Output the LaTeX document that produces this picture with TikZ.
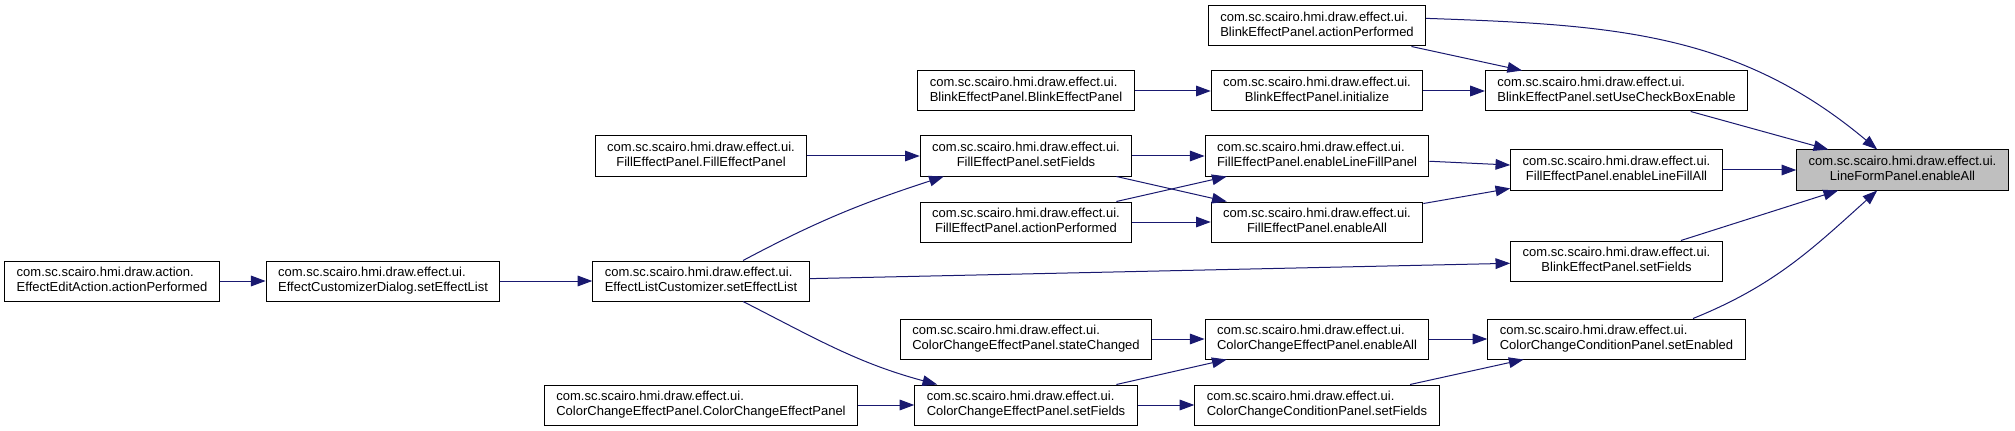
\documentclass[tikz,border=0pt]{standalone}
\usepackage{fontspec}
\setmainfont{Liberation Sans}
\usepackage{tikz}
\usetikzlibrary{arrows.meta}
\definecolor{cedge}{RGB}{25,25,112}
\definecolor{cgray}{RGB}{191,191,191}
\newcommand{\twoline}[2]{\begin{tabular}{@{}l@{}}#1\\\multicolumn{1}{@{}c@{}}{#2}\end{tabular}}

\begin{document}
\begin{tikzpicture}[
    x=0.75pt, y=-0.75pt,
    every node/.style={font=\fontsize{9.75}{11.25}\selectfont},
    fn/.style={draw=black, line width=0.75pt, fill=white, inner xsep=9pt, inner ysep=0pt, minimum height=30pt},
    call/.style={-{Triangle[length=11pt,width=8pt]}, cedge, line width=0.75pt},
]
    \fill[white] (0,0) rectangle (2015,431);

    % Column 1 and 2
    \node[fn] (eea) at (112,281) {\twoline{com.sc.scairo.hmi.draw.action.}{EffectEditAction.actionPerformed}};
    \node[fn] (ecd) at (383,281) {\twoline{com.sc.scairo.hmi.draw.effect.ui.}{EffectCustomizerDialog.setEffectList}};

    % Column 3
    \node[fn] (fepc) at (701,156) {\twoline{com.sc.scairo.hmi.draw.effect.ui.}{FillEffectPanel.FillEffectPanel}};
    \node[fn] (elc) at (701,281) {\twoline{com.sc.scairo.hmi.draw.effect.ui.}{EffectListCustomizer.setEffectList}};
    \node[fn] (ccepc) at (701,405) {\twoline{com.sc.scairo.hmi.draw.effect.ui.}{ColorChangeEffectPanel.ColorChangeEffectPanel}};

    % Column 4
    \node[fn] (bepc) at (1026,91) {\twoline{com.sc.scairo.hmi.draw.effect.ui.}{BlinkEffectPanel.BlinkEffectPanel}};
    \node[fn] (fesf) at (1026,156) {\twoline{com.sc.scairo.hmi.draw.effect.ui.}{FillEffectPanel.setFields}};
    \node[fn] (feap) at (1026,222) {\twoline{com.sc.scairo.hmi.draw.effect.ui.}{FillEffectPanel.actionPerformed}};
    \node[fn] (cesc) at (1026,339) {\twoline{com.sc.scairo.hmi.draw.effect.ui.}{ColorChangeEffectPanel.stateChanged}};
    \node[fn] (cesf) at (1026,405) {\twoline{com.sc.scairo.hmi.draw.effect.ui.}{ColorChangeEffectPanel.setFields}};

    % Column 5
    \node[fn] (beap) at (1317,26) {\twoline{com.sc.scairo.hmi.draw.effect.ui.}{BlinkEffectPanel.actionPerformed}};
    \node[fn] (bei) at (1317,91) {\twoline{com.sc.scairo.hmi.draw.effect.ui.}{BlinkEffectPanel.initialize}};
    \node[fn] (felp) at (1317,156) {\twoline{com.sc.scairo.hmi.draw.effect.ui.}{FillEffectPanel.enableLineFillPanel}};
    \node[fn] (fea) at (1317,222) {\twoline{com.sc.scairo.hmi.draw.effect.ui.}{FillEffectPanel.enableAll}};
    \node[fn] (cea) at (1317,339) {\twoline{com.sc.scairo.hmi.draw.effect.ui.}{ColorChangeEffectPanel.enableAll}};
    \node[fn] (ccsf) at (1317,405) {\twoline{com.sc.scairo.hmi.draw.effect.ui.}{ColorChangeConditionPanel.setFields}};

    % Column 6
    \node[fn] (bucb) at (1616.5,91) {\twoline{com.sc.scairo.hmi.draw.effect.ui.}{BlinkEffectPanel.setUseCheckBoxEnable}};
    \node[fn] (fela) at (1616.5,170) {\twoline{com.sc.scairo.hmi.draw.effect.ui.}{FillEffectPanel.enableLineFillAll}};
    \node[fn] (besf) at (1616.5,261) {\twoline{com.sc.scairo.hmi.draw.effect.ui.}{BlinkEffectPanel.setFields}};
    \node[fn] (ccse) at (1616.5,339) {\twoline{com.sc.scairo.hmi.draw.effect.ui.}{ColorChangeConditionPanel.setEnabled}};

    % Target
    \node[fn, fill=cgray] (lfp) at (1902.5,170) {\twoline{com.sc.scairo.hmi.draw.effect.ui.}{LineFormPanel.enableAll}};

    % Calls
    \draw[call] (eea) -- (ecd);
    \draw[call] (ecd) -- (elc);
    \draw[call] (elc.26) to[out=28, in=198] (fesf.194);
    \draw[call] (elc) -- (besf);
    \draw[call] (elc.-26) to[out=-27, in=165] (cesf.167);
    \draw[call] (fepc) -- (fesf);
    \draw[call] (ccepc) -- (cesf);
    \draw[call] (bepc) -- (bei);
    \draw[call] (fesf) -- (felp);
    \draw[call] (fesf) -- (fea);
    \draw[call] (feap) -- (felp);
    \draw[call] (feap) -- (fea);
    \draw[call] (cesc) -- (cea);
    \draw[call] (cesf) -- (cea);
    \draw[call] (cesf) -- (ccsf);
    \draw[call] (beap) -- (bucb);
    \draw[call] (beap.4) to[out=-2, in=140] (lfp.141);
    \draw[call] (bei) -- (bucb);
    \draw[call] (felp) -- (fela);
    \draw[call] (fea) -- (fela);
    \draw[call] (cea) -- (ccse);
    \draw[call] (ccsf) -- (ccse);
    \draw[call] (bucb) -- (lfp);
    \draw[call] (fela) -- (lfp);
    \draw[call] (besf) -- (lfp);
    \draw[call] (ccse.15) to[out=22, in=222] (lfp.219);
\end{tikzpicture}
\end{document}
